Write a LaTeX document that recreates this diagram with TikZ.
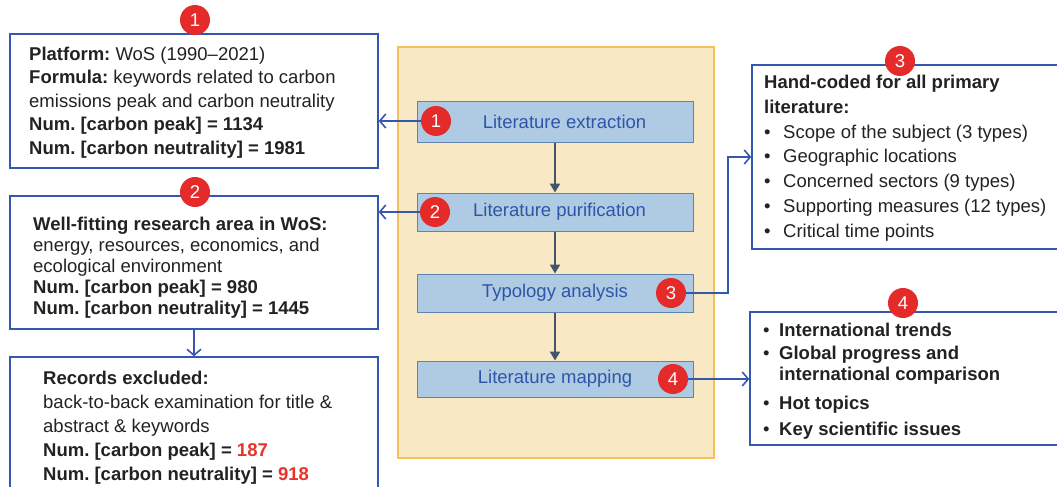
\documentclass[tikz,border=0pt]{standalone}
\usepackage{fontspec}
\setmainfont{Liberation Sans}
\usetikzlibrary{arrows.meta}
\frenchspacing
\definecolor{boxblue}{HTML}{3558AE}
\definecolor{bgfill}{HTML}{F8E8C4}
\definecolor{bgdraw}{HTML}{F4C15A}
\definecolor{stepfill}{HTML}{AECBE3}
\definecolor{stepdraw}{HTML}{5F84AC}
\definecolor{steptext}{HTML}{2F55A8}
\definecolor{badgered}{HTML}{E52A2A}
\definecolor{flowgray}{HTML}{44546A}
\definecolor{txt}{HTML}{222222}
\definecolor{numred}{HTML}{E8322B}
\begin{document}
\begin{tikzpicture}[x=1pt,y=-1pt,
 infobox/.style={draw=boxblue,line width=1.4pt,fill=white,inner sep=0},
 stepbox/.style={draw=stepdraw,fill=stepfill,line width=1pt,minimum width=276pt,inner sep=0,text=steptext,font=\fontsize{18.5}{21}\selectfont},
 badge/.style={circle,fill=badgered,text=white,minimum size=30pt,inner sep=0,font=\fontsize{18.5}{21}\selectfont},
 infotext/.style={anchor=west,inner sep=0,align=left,text=txt},
 flow/.style={draw=flowgray,line width=2.6pt,-{Triangle[length=9pt,width=10pt]}},
 link/.style={draw=boxblue,line width=1.6pt,-{Straight Barb[length=6pt,width=14pt,line width=1.6pt]}}
]
\useasboundingbox (0,0) rectangle (1057,487);
\fill[white] (0,0) rectangle (1057,487);

% left boxes
\node[infobox,minimum width=368pt,minimum height=134pt] (b1) at (194,101) {};
\node[infobox,minimum width=368pt,minimum height=133pt] (b2) at (194,262.5) {};
\node[infobox,minimum width=368pt,minimum height=138pt] (b3) at (194,426) {};

% right boxes
\node[infobox,minimum width=313pt,minimum height=184pt] (r3) at (908.5,157) {};
\node[infobox,minimum width=315pt,minimum height=133pt] (r4) at (907.5,378.5) {};

% background
\node[draw=bgdraw,fill=bgfill,line width=1.2pt,minimum width=316pt,minimum height=411pt,inner sep=0] (bg) at (556,252.5) {};

% steps
\node[stepbox,minimum height=41pt] (s1) at (555,121.5) {\hspace*{19pt}Literature extraction};
\node[stepbox,minimum height=38pt] (s2) at (555,212) {\hspace*{9pt}Literature purification};
\node[stepbox,minimum height=38pt] (s3) at (555,293) {Typology analysis};
\node[stepbox,minimum height=36pt] (s4) at (555,379) {Literature mapping};

\draw[flow] (s1.south) -- (s2.north);
\draw[flow] (s2.south) -- (s3.north);
\draw[flow] (s3.south) -- (s4.north);

% texts
\node[infotext,font=\fontsize{18.5}{23.5}\selectfont] (t1) at (29,102.5) {%
\textbf{Platform:} WoS (1990–2021)\\
\textbf{Formula:}\ keywords related to carbon\\
emissions peak and carbon neutrality\\
\textbf{Num. [carbon peak] = 1134}\\
\textbf{Num. [carbon neutrality] = 1981}};

\node[infotext,font=\fontsize{18.5}{21}\selectfont] (t2) at (33,268) {%
\textbf{Well-fitting research area in WoS:}\\
energy, resources, economics, and\\
ecological environment\\
\textbf{Num. [carbon peak] = 980}\\
\textbf{Num. [carbon neutrality] = 1445}};

\node[infotext,font=\fontsize{18.5}{24}\selectfont] (t3) at (43,427.5) {%
\textbf{Records excluded:}\\
back-to-back examination for title \&\\
abstract \&\ keywords\\
\textbf{Num. [carbon peak] = \textcolor{numred}{187}}\\
\textbf{Num. [carbon neutrality] = \textcolor{numred}{918}}};

\node[infotext,font=\fontsize{18.5}{24.8}\selectfont] (t4) at (764,158) {%
\begin{tabular}{@{}p{19pt}@{}l@{}}
\multicolumn{2}{@{}l@{}}{\textbf{Hand-coded for all primary}}\\
\multicolumn{2}{@{}l@{}}{\textbf{literature:}}\\
\textbullet & Scope of the subject (3 types)\\
\textbullet & Geographic locations\\
\textbullet & Concerned sectors (9 types)\\
\textbullet & Supporting measures (12 types)\\
\textbullet & Critical time points
\end{tabular}};

\node[infotext,font=\fontsize{18.5}{21}\selectfont] (t5) at (763,381.5) {%
\begin{tabular}{@{}p{16pt}@{}l@{}}
\textbullet & \textbf{International trends}\\[2pt]
\textbullet & \textbf{Global progress and}\\
 & \textbf{international comparison}\\[8pt]
\textbullet & \textbf{Hot topics}\\[5pt]
\textbullet & \textbf{Key scientific issues}
\end{tabular}};

% badges
\node[badge] (m1) at (436,121) {1};
\node[badge] (m2) at (435,212) {2};
\node[badge] (m3) at (671,293) {3};
\node[badge] (m4) at (673,379) {4};

\coordinate (k3) at (728,293);
\draw[link] (m1) -- (m1 -| b1.east);
\draw[link] (m2) -- (m2 -| b2.east);
\draw[link] (m3) -- (k3) |- (r3.west);
\draw[link] (m4) -- (m4 -| r4.west);
\draw[link] (b2.south) -- (b3.north);

\node[badge] (n1) at (195,20) {1};
\node[badge] (n2) at (195,192) {2};
\node[badge] (n3) at (900,61) {3};
\node[badge] (n4) at (903,303) {4};
\end{tikzpicture}
\end{document}
